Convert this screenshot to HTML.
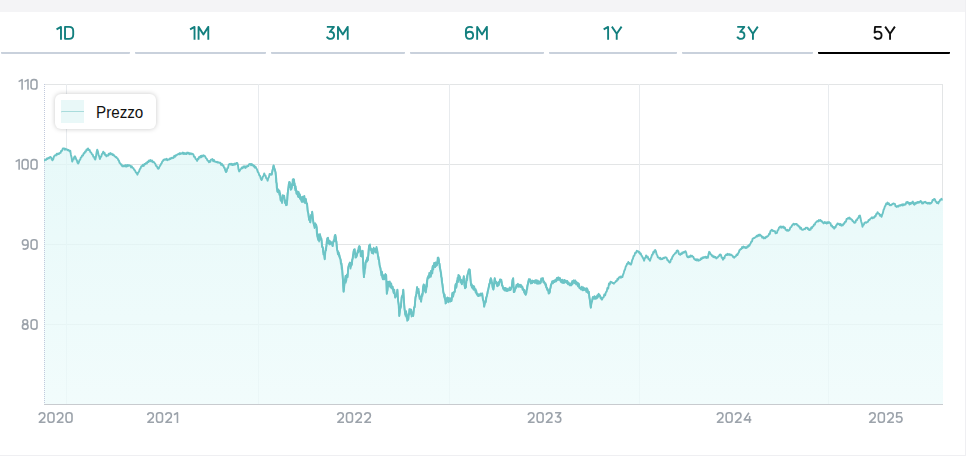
<!DOCTYPE html>
<html><head><meta charset="utf-8">
<style>
html,body{margin:0;padding:0;}
body{width:966px;height:456px;overflow:hidden;background:#fff;position:relative;font-family:"Liberation Sans",sans-serif;}
.topband{position:absolute;left:0;top:0;width:966px;height:12px;background:#f4f4f6;}
.rband{position:absolute;left:965px;top:0;width:1px;height:456px;background:#efeff2;}
.bband{position:absolute;left:0;top:455px;width:966px;height:1px;background:#efeff2;}
.tab{position:absolute;top:12px;height:42px;border-bottom:2px solid #c9d1dc;box-sizing:border-box;border-radius:0 0 1px 1px;}
.tab.act{border-bottom-color:#000;}
svg{position:absolute;left:0;top:0;}
.grid line{stroke-width:1;}
.legend{position:absolute;left:55px;top:94px;width:101px;height:35px;background:#fff;border-radius:6px;box-shadow:0 0 5px rgba(0,0,0,0.22);}
.sw{position:absolute;left:6px;top:6px;width:23px;height:23px;background:#e9f8f8;}
.sw i{position:absolute;left:0;top:11px;width:23px;height:0;border-top:2px dotted #b6e2e2;top:10px;}
.lt{position:absolute;left:41px;top:9px;font-size:16px;line-height:20px;color:#111;transform-origin:left center;transform:scaleX(0.95);}
</style></head><body>
<div class="topband"></div>
<div class="tab" style="left:1px;width:129px"></div>
<div class="tab" style="left:135px;width:131px"></div>
<div class="tab" style="left:271px;width:134px"></div>
<div class="tab" style="left:410px;width:134px"></div>
<div class="tab" style="left:549px;width:128px"></div>
<div class="tab" style="left:682px;width:131px"></div>
<div class="tab act" style="left:818px;width:132px"></div>

<svg width="966" height="456" viewBox="0 0 966 456">
<g class="grid"><line x1="44" y1="84.5" x2="942.5" y2="84.5" stroke="#e3e5e6" /><line x1="44" y1="164.5" x2="942.5" y2="164.5" stroke="#e3e5e6" /><line x1="44" y1="244.5" x2="942.5" y2="244.5" stroke="#e3e5e6" /><line x1="44" y1="324.5" x2="942.5" y2="324.5" stroke="#e3e5e6" /><line x1="66.5" y1="84" x2="66.5" y2="404" stroke="#e8ebee" /><line x1="258.5" y1="84" x2="258.5" y2="404" stroke="#e8ebee" /><line x1="449.5" y1="84" x2="449.5" y2="404" stroke="#e8ebee" /><line x1="639.5" y1="84" x2="639.5" y2="404" stroke="#e8ebee" /><line x1="828.5" y1="84" x2="828.5" y2="404" stroke="#e8ebee" /><line x1="942.5" y1="84" x2="942.5" y2="200" stroke="#e3e5e6" /></g>
<defs><linearGradient id="fg" gradientUnits="userSpaceOnUse" x1="0" y1="84" x2="0" y2="404"><stop offset="0" stop-color="rgb(220,246,246)"/><stop offset="1" stop-color="rgb(237,251,251)"/></linearGradient></defs>
<path d="M44.0,160.5 L44.6,160.5 L45.3,159.6 L46.1,159.9 L46.8,158.5 L47.5,159.0 L48.3,157.7 L49.0,158.3 L49.8,157.2 L50.5,157.0 L51.2,157.6 L51.8,159.4 L52.5,160.3 L53.2,159.3 L53.8,157.0 L54.5,155.7 L55.2,155.1 L56.0,155.4 L56.7,153.8 L57.5,154.4 L58.2,153.4 L59.0,154.0 L59.7,153.0 L60.5,152.9 L61.3,150.6 L62.1,150.7 L62.9,148.4 L63.7,148.4 L64.3,148.5 L65.0,149.7 L65.7,148.8 L66.3,149.5 L67.1,149.5 L67.9,150.3 L68.7,149.9 L69.5,151.3 L70.3,150.8 L70.9,154.7 L71.6,157.4 L72.2,161.6 L72.9,159.6 L73.6,159.4 L74.2,157.1 L74.9,156.3 L75.6,157.5 L76.2,159.4 L76.9,160.3 L77.5,162.7 L78.2,163.5 L78.8,162.5 L79.5,160.1 L80.2,159.7 L80.8,157.6 L81.5,157.2 L82.2,155.4 L83.0,155.6 L83.7,153.2 L84.4,153.4 L85.1,151.5 L85.8,151.7 L86.6,149.4 L87.3,150.0 L88.0,148.4 L88.8,150.0 L89.6,149.9 L90.4,152.2 L91.2,152.6 L92.0,154.3 L92.7,154.6 L93.3,156.7 L94.0,156.9 L94.6,158.7 L95.3,159.6 L95.9,157.0 L96.6,152.3 L97.2,149.7 L97.9,151.4 L98.6,155.2 L99.2,156.3 L99.9,159.0 L100.6,156.9 L101.2,156.7 L101.9,154.0 L102.5,153.7 L103.2,151.7 L103.8,153.4 L104.5,152.7 L105.1,155.0 L105.8,154.7 L106.4,156.3 L107.2,155.4 L108.0,155.7 L108.8,153.7 L109.6,154.6 L110.4,153.0 L111.2,154.3 L111.9,153.7 L112.7,155.1 L113.5,154.5 L114.2,155.9 L115.0,156.3 L115.7,157.3 L116.3,157.0 L116.9,158.1 L117.6,158.3 L118.3,160.1 L118.9,160.6 L119.6,162.9 L120.3,163.3 L120.9,164.6 L121.6,164.4 L122.2,166.3 L122.9,166.2 L123.6,166.4 L124.4,165.5 L125.1,166.5 L125.8,165.1 L126.6,166.6 L127.3,164.9 L128.0,166.0 L128.8,165.1 L129.5,165.5 L130.3,165.6 L131.1,167.4 L131.8,166.3 L132.6,167.9 L133.4,168.2 L134.2,169.8 L135.0,170.5 L135.8,172.4 L136.6,172.9 L137.4,174.7 L138.2,172.4 L139.0,171.7 L139.7,169.4 L140.5,168.4 L141.3,166.2 L142.1,166.2 L142.9,164.8 L143.7,165.9 L144.5,163.9 L145.3,164.2 L146.0,163.0 L146.8,163.6 L147.5,161.7 L148.3,162.0 L149.0,160.4 L149.8,161.3 L150.5,160.0 L151.3,161.4 L152.1,160.4 L152.9,162.2 L153.7,161.9 L154.5,162.9 L155.3,163.8 L156.0,165.9 L156.8,166.2 L157.5,167.8 L158.3,168.8 L159.0,168.0 L159.6,166.2 L160.2,165.8 L160.9,164.2 L161.6,163.3 L162.2,161.7 L162.9,161.0 L163.6,159.6 L164.4,159.9 L165.1,159.2 L165.9,159.8 L166.7,158.8 L167.4,160.2 L168.2,159.6 L169.0,159.6 L169.7,158.6 L170.5,159.0 L171.3,157.8 L172.0,158.2 L172.8,157.6 L173.5,157.9 L174.3,155.8 L175.0,156.7 L175.8,155.2 L176.5,155.5 L177.3,154.5 L178.0,154.3 L178.7,153.7 L179.3,154.3 L180.0,153.0 L180.6,153.9 L181.3,153.4 L182.0,153.6 L182.8,152.5 L183.5,154.0 L184.2,153.1 L185.0,154.0 L185.7,153.2 L186.4,154.0 L187.2,152.5 L187.9,153.4 L188.7,152.7 L189.4,154.2 L190.2,153.3 L191.0,154.2 L191.7,153.5 L192.5,153.9 L193.3,154.3 L194.0,156.8 L194.8,156.7 L195.6,159.0 L196.3,159.4 L197.1,160.9 L197.8,158.8 L198.4,159.2 L199.1,157.0 L199.8,157.6 L200.6,155.9 L201.3,157.2 L202.1,155.5 L202.8,156.4 L203.6,155.3 L204.3,155.7 L205.1,156.3 L205.9,158.1 L206.7,158.7 L207.4,160.4 L208.2,160.8 L209.0,162.2 L209.7,160.9 L210.3,161.8 L210.9,159.7 L211.6,159.6 L212.4,159.1 L213.2,161.3 L213.9,159.9 L214.7,161.6 L215.5,161.6 L216.3,162.2 L217.1,161.8 L217.9,162.7 L218.7,162.3 L219.5,162.9 L220.3,162.8 L221.1,164.8 L221.8,163.7 L222.6,165.5 L223.4,165.5 L224.1,167.8 L224.7,168.0 L225.3,170.7 L226.0,172.1 L226.7,171.2 L227.3,168.1 L228.0,168.1 L228.6,165.1 L229.3,164.2 L230.1,163.8 L230.9,164.7 L231.7,163.8 L232.4,165.1 L233.2,164.0 L234.0,164.9 L234.8,163.5 L235.6,164.4 L236.4,162.9 L237.2,162.9 L237.9,164.9 L238.5,169.3 L239.2,171.4 L239.8,170.7 L240.5,169.2 L241.2,168.8 L241.8,167.5 L242.6,168.2 L243.3,166.5 L244.1,167.5 L244.8,166.3 L245.6,167.9 L246.3,166.2 L247.1,166.8 L247.8,165.7 L248.4,166.0 L249.0,164.4 L249.7,164.0 L250.4,164.0 L251.0,165.2 L251.7,163.9 L252.3,165.3 L253.0,164.9 L253.7,166.4 L254.3,165.7 L255.0,167.7 L255.6,166.8 L256.3,168.2 L257.1,169.6 L257.8,171.9 L258.6,172.9 L259.3,175.3 L260.1,176.0 L260.8,178.7 L261.6,180.0 L262.2,178.8 L262.9,176.4 L263.6,175.9 L264.2,173.4 L264.9,175.3 L265.6,175.8 L266.2,178.4 L266.9,178.4 L267.6,180.7 L268.3,178.0 L268.9,177.1 L269.6,174.0 L270.3,174.8 L270.9,173.9 L271.6,174.7 L272.3,171.1 L272.9,168.8 L273.6,165.5 L274.2,168.2 L274.9,169.6 L275.5,172.1 L276.2,178.0 L276.8,187.9 L277.5,191.8 L278.1,192.2 L278.8,190.5 L279.4,194.9 L280.1,193.3 L280.8,200.4 L281.4,201.0 L282.1,200.7 L282.7,195.6 L283.4,195.8 L284.1,195.6 L284.7,202.1 L285.4,200.4 L286.0,205.2 L286.7,205.0 L287.4,199.0 L288.0,190.5 L288.6,187.6 L289.3,182.0 L290.0,187.0 L290.6,184.9 L291.3,189.2 L292.0,183.9 L292.6,185.1 L293.3,179.3 L294.0,185.1 L294.6,183.4 L295.3,190.2 L295.9,189.0 L296.6,193.8 L297.2,191.9 L297.9,196.2 L298.6,192.0 L299.2,193.8 L299.9,194.4 L300.5,199.0 L301.3,197.2 L302.0,202.0 L302.8,196.6 L303.5,201.8 L304.3,196.0 L305.0,200.3 L305.8,199.0 L306.5,203.4 L307.1,203.7 L307.7,211.5 L308.3,213.2 L309.0,219.0 L309.6,218.4 L310.3,222.4 L310.9,217.9 L311.6,217.1 L312.2,211.8 L312.9,218.6 L313.6,223.7 L314.2,225.3 L314.9,223.5 L315.6,227.0 L316.2,225.0 L316.9,233.5 L317.5,236.8 L318.2,240.0 L318.8,236.3 L319.5,240.1 L320.1,235.6 L320.8,238.2 L321.5,240.3 L322.1,247.2 L322.8,247.4 L323.4,254.4 L324.1,254.1 L324.7,259.2 L325.4,250.9 L326.0,250.3 L326.7,241.6 L327.4,238.2 L328.0,237.7 L328.7,243.4 L329.4,240.7 L330.0,244.4 L330.6,241.7 L331.3,243.4 L332.0,242.8 L332.6,246.0 L333.3,241.7 L334.0,241.6 L334.6,236.2 L335.3,234.9 L335.9,237.5 L336.6,245.6 L337.2,250.0 L338.0,254.2 L338.8,252.6 L339.5,257.2 L340.3,258.7 L340.9,263.7 L341.6,263.5 L342.2,269.2 L342.9,278.5 L343.6,291.6 L344.2,284.9 L344.9,279.7 L345.5,275.9 L346.2,281.0 L346.9,274.7 L347.5,277.1 L348.1,270.3 L348.8,265.3 L349.4,264.0 L350.1,266.0 L350.8,262.7 L351.4,265.3 L352.1,260.0 L352.8,258.4 L353.4,251.8 L354.1,249.5 L354.8,249.2 L355.4,257.5 L356.1,257.4 L356.9,255.9 L357.7,250.8 L358.5,251.9 L359.3,246.2 L360.0,251.5 L360.6,250.3 L361.3,256.0 L362.0,252.5 L362.6,250.8 L363.2,263.2 L363.9,277.1 L364.6,269.5 L365.2,268.3 L365.9,261.3 L366.6,261.7 L367.2,257.4 L367.9,260.0 L368.5,250.5 L369.2,245.5 L369.9,244.4 L370.5,249.4 L371.2,250.1 L371.9,253.1 L372.5,249.8 L373.2,253.7 L373.8,249.4 L374.5,251.4 L375.1,249.4 L375.8,252.5 L376.5,247.0 L377.1,249.5 L377.8,254.7 L378.4,259.3 L379.1,260.3 L379.8,266.6 L380.4,267.9 L381.0,272.0 L381.6,272.6 L382.3,277.4 L382.9,279.2 L383.6,279.2 L384.2,276.5 L384.9,278.3 L385.5,274.7 L386.2,275.3 L386.8,293.7 L387.5,290.3 L388.2,281.8 L389.0,284.5 L389.8,282.5 L390.5,286.8 L391.3,285.6 L392.1,288.4 L392.9,289.3 L393.7,292.8 L394.4,292.5 L395.2,297.2 L396.0,296.3 L396.7,295.0 L397.4,289.7 L398.0,299.6 L398.7,305.4 L399.3,316.0 L400.1,307.8 L400.9,306.4 L401.7,297.5 L402.5,296.7 L403.3,289.7 L404.0,301.5 L404.6,309.5 L405.3,314.3 L405.9,312.1 L406.6,317.7 L407.2,315.5 L407.9,320.0 L408.6,313.4 L409.2,314.5 L409.9,309.5 L410.6,313.5 L411.2,309.7 L411.9,315.6 L412.5,313.1 L413.2,316.0 L414.0,308.7 L414.8,305.2 L415.5,297.7 L416.3,293.7 L417.1,287.1 L417.9,292.5 L418.7,291.6 L419.5,296.8 L420.3,297.9 L421.1,301.6 L421.8,294.6 L422.4,295.9 L423.1,286.5 L423.7,284.5 L424.4,285.8 L425.0,291.0 L425.7,292.4 L426.3,288.9 L427.0,280.9 L427.6,277.9 L428.4,275.8 L429.2,277.5 L430.0,273.4 L430.8,276.7 L431.6,272.6 L432.3,273.3 L433.0,265.7 L433.6,266.6 L434.3,262.9 L435.0,266.5 L435.6,262.5 L436.3,265.9 L437.0,264.9 L437.6,261.9 L438.3,257.6 L439.0,263.2 L439.6,263.7 L440.3,269.5 L441.1,273.3 L441.9,282.1 L442.6,284.8 L443.4,292.4 L444.1,294.4 L444.8,298.9 L445.4,299.4 L446.1,302.9 L446.8,298.6 L447.4,297.6 L448.0,297.9 L448.7,300.3 L449.4,299.2 L450.0,301.6 L450.8,298.5 L451.6,299.9 L452.3,293.9 L453.1,296.5 L453.9,292.1 L454.7,292.0 L455.4,285.0 L456.2,287.9 L456.9,281.1 L457.7,281.8 L458.4,274.9 L459.2,275.7 L459.9,276.8 L460.5,282.4 L461.1,279.8 L461.8,284.2 L462.5,280.8 L463.1,281.7 L463.8,276.3 L464.5,285.1 L465.1,288.2 L465.8,286.8 L466.5,278.5 L467.1,280.0 L467.8,273.7 L468.4,273.3 L469.1,269.1 L469.7,269.7 L470.4,276.2 L471.0,284.9 L471.8,284.3 L472.6,288.3 L473.4,286.1 L474.2,289.8 L475.0,289.5 L475.7,292.5 L476.3,290.8 L477.0,294.8 L477.6,294.1 L478.3,296.1 L479.1,295.2 L479.9,295.6 L480.6,293.6 L481.4,294.5 L482.2,293.4 L482.9,299.4 L483.5,301.0 L484.2,306.6 L484.9,302.7 L485.5,302.6 L486.1,297.4 L486.8,296.1 L487.6,291.5 L488.4,289.3 L489.2,283.9 L490.0,283.3 L490.8,278.3 L491.4,282.2 L492.1,282.8 L492.8,288.0 L493.4,289.5 L494.0,284.4 L494.7,278.3 L495.4,281.7 L496.0,281.5 L496.7,284.7 L497.4,286.2 L498.1,285.6 L498.7,282.1 L499.4,282.9 L500.0,279.5 L500.7,279.6 L501.4,280.1 L502.0,285.3 L502.6,285.6 L503.3,288.8 L504.1,288.0 L504.8,290.6 L505.6,288.0 L506.4,290.9 L507.1,288.6 L507.9,290.1 L508.6,289.2 L509.2,289.9 L509.9,288.2 L510.5,290.0 L511.2,288.2 L511.9,285.7 L512.5,280.4 L513.2,278.3 L513.8,292.1 L514.5,291.0 L515.1,288.8 L515.8,288.5 L516.4,285.0 L517.1,284.9 L517.9,283.8 L518.6,286.7 L519.4,284.8 L520.2,286.9 L520.9,285.0 L521.7,286.2 L522.5,286.9 L523.3,290.1 L524.1,289.7 L524.9,293.6 L525.7,294.7 L526.5,292.6 L527.3,285.3 L528.1,283.5 L528.9,279.3 L529.6,281.1 L530.2,279.4 L530.9,283.5 L531.6,282.6 L532.2,283.1 L532.9,280.9 L533.6,281.8 L534.2,280.7 L535.0,282.8 L535.7,280.8 L536.5,283.0 L537.2,281.6 L538.0,283.7 L538.7,281.2 L539.5,283.3 L540.1,281.6 L540.8,282.5 L541.5,278.8 L542.1,278.7 L542.8,278.2 L543.4,282.4 L544.1,281.5 L544.7,283.3 L545.5,283.3 L546.2,287.7 L547.0,287.9 L547.8,290.3 L548.5,290.5 L549.3,293.2 L550.0,289.1 L550.6,287.9 L551.3,284.0 L551.9,283.7 L552.6,281.5 L553.2,282.3 L553.9,280.7 L554.7,282.0 L555.4,279.8 L556.2,281.3 L556.9,278.0 L557.7,279.8 L558.4,277.3 L559.2,278.7 L560.0,278.1 L560.8,281.9 L561.6,280.3 L562.4,282.7 L563.2,282.6 L563.9,283.1 L564.5,279.9 L565.1,282.4 L565.8,280.7 L566.6,282.5 L567.4,281.6 L568.1,284.2 L568.9,284.0 L569.7,285.3 L570.4,284.1 L571.0,285.5 L571.7,282.5 L572.3,284.4 L573.0,282.0 L573.8,282.8 L574.6,281.5 L575.4,283.5 L576.2,281.8 L577.0,282.6 L577.7,282.8 L578.3,286.5 L579.0,284.1 L579.6,288.4 L580.3,287.9 L581.0,289.4 L581.8,286.6 L582.5,290.2 L583.3,287.5 L584.0,290.2 L584.8,288.6 L585.5,289.2 L586.2,288.3 L586.8,291.2 L587.5,289.3 L588.1,292.6 L588.8,291.8 L589.5,297.8 L590.1,301.9 L590.8,307.6 L591.5,302.4 L592.1,301.1 L592.8,297.1 L593.6,298.4 L594.4,296.8 L595.1,298.7 L595.9,296.7 L596.7,298.4 L597.4,295.1 L598.0,296.1 L598.7,293.8 L599.4,296.3 L600.0,295.4 L600.7,298.5 L601.3,297.6 L602.0,299.7 L602.8,297.6 L603.6,297.3 L604.3,294.5 L605.1,295.4 L605.9,292.2 L606.7,291.5 L607.4,288.0 L608.2,288.6 L609.0,283.4 L609.7,284.5 L610.5,281.7 L611.2,282.4 L611.8,282.2 L612.5,283.1 L613.1,282.9 L613.8,283.7 L614.5,282.6 L615.3,282.4 L616.0,280.9 L616.8,281.0 L617.5,278.8 L618.2,279.5 L619.0,277.4 L619.7,277.1 L620.4,276.6 L621.0,277.7 L621.7,276.6 L622.4,277.1 L623.1,274.6 L623.7,273.1 L624.4,270.4 L625.0,269.6 L625.7,266.6 L626.4,265.7 L627.0,263.8 L627.6,263.8 L628.3,262.0 L628.9,263.5 L629.6,263.0 L630.2,264.3 L630.9,264.6 L631.6,262.8 L632.2,259.9 L632.9,258.7 L633.6,256.1 L634.4,255.6 L635.2,252.7 L636.0,252.9 L636.8,250.8 L637.5,251.3 L638.1,251.2 L638.8,252.5 L639.5,252.1 L640.1,253.9 L640.8,253.6 L641.5,255.7 L642.1,256.1 L642.8,257.8 L643.4,258.7 L644.1,260.7 L644.8,258.1 L645.4,257.9 L646.1,255.4 L646.9,257.3 L647.7,256.6 L648.4,258.9 L649.2,259.4 L650.0,260.7 L650.7,258.4 L651.3,257.3 L652.0,254.7 L652.7,254.5 L653.3,252.0 L654.0,252.6 L654.6,250.4 L655.3,250.1 L655.9,251.2 L656.6,254.3 L657.2,255.0 L657.9,257.4 L658.7,257.5 L659.5,258.7 L660.2,257.8 L661.0,259.3 L661.8,258.7 L662.6,259.1 L663.4,257.8 L664.2,258.2 L665.0,257.3 L665.8,257.4 L666.6,257.8 L667.4,260.2 L668.1,260.3 L668.9,261.8 L669.7,262.6 L670.4,261.9 L671.0,259.4 L671.7,259.2 L672.3,257.1 L673.0,256.1 L673.8,254.6 L674.5,254.4 L675.3,252.9 L676.1,252.9 L676.8,250.6 L677.6,250.5 L678.3,251.2 L678.9,254.0 L679.6,254.5 L680.3,254.8 L680.9,253.6 L681.6,254.1 L682.2,252.6 L682.9,253.2 L683.5,252.0 L684.2,252.6 L684.9,251.5 L685.5,251.2 L686.2,252.6 L686.8,255.8 L687.5,257.1 L688.3,257.4 L689.0,256.3 L689.8,257.1 L690.6,255.4 L691.3,256.4 L692.1,255.8 L692.8,256.8 L693.4,257.0 L694.1,258.8 L694.7,259.1 L695.5,260.0 L696.2,259.2 L697.0,260.5 L697.8,259.3 L698.5,260.7 L699.3,260.4 L700.1,260.2 L700.8,258.4 L701.6,259.2 L702.4,257.4 L703.1,258.0 L703.9,257.1 L704.7,257.6 L705.5,256.7 L706.3,257.9 L707.1,256.8 L707.9,257.8 L708.5,254.3 L709.2,251.8 L709.9,252.5 L710.5,254.1 L711.1,254.3 L711.8,255.8 L712.6,255.4 L713.3,257.2 L714.1,256.4 L714.8,257.4 L715.6,256.9 L716.3,258.4 L717.1,257.8 L717.8,257.4 L718.4,256.3 L719.1,256.0 L719.7,254.7 L720.4,254.5 L721.0,255.0 L721.7,257.9 L722.4,257.7 L723.0,259.7 L723.7,257.7 L724.4,258.3 L725.0,255.8 L725.7,255.1 L726.3,254.4 L727.0,255.1 L727.6,253.8 L728.4,254.8 L729.2,254.1 L730.0,255.2 L730.8,254.4 L731.6,255.1 L732.2,255.3 L732.9,256.9 L733.6,256.8 L734.2,257.8 L735.0,256.7 L735.8,256.3 L736.6,254.6 L737.4,255.0 L738.2,253.2 L738.8,252.4 L739.5,250.1 L740.1,249.9 L740.8,248.9 L741.4,249.0 L742.1,247.1 L742.7,248.0 L743.4,246.6 L744.1,247.4 L744.7,246.9 L745.4,247.9 L746.0,247.2 L746.7,247.9 L747.4,246.3 L748.0,246.8 L748.7,245.3 L749.3,245.8 L750.0,244.3 L750.7,243.3 L751.3,241.5 L752.0,241.5 L752.6,238.8 L753.3,238.4 L753.9,237.9 L754.6,238.0 L755.2,237.2 L755.9,237.1 L756.7,235.7 L757.5,236.4 L758.3,234.8 L759.1,235.8 L759.9,234.5 L760.7,235.7 L761.5,235.7 L762.2,237.7 L763.0,237.0 L763.8,238.4 L764.6,237.6 L765.3,238.2 L766.1,236.7 L766.9,237.0 L767.6,236.1 L768.4,235.8 L769.1,233.8 L769.8,234.0 L770.4,231.2 L771.1,230.5 L771.9,229.8 L772.7,231.0 L773.5,230.7 L774.3,231.2 L775.0,231.3 L775.6,233.4 L776.3,233.2 L777.0,232.9 L777.6,230.3 L778.3,230.0 L778.9,227.9 L779.6,227.2 L780.4,226.5 L781.2,227.8 L782.0,226.5 L782.8,227.5 L783.6,226.6 L784.2,228.1 L784.9,227.5 L785.6,229.8 L786.2,229.9 L786.9,230.7 L787.5,229.8 L788.1,230.8 L788.8,230.5 L789.6,229.8 L790.4,227.4 L791.2,227.2 L792.0,225.5 L792.8,224.6 L793.6,223.7 L794.4,224.7 L795.1,224.0 L795.9,224.2 L796.7,223.9 L797.4,225.4 L798.0,225.3 L798.7,226.6 L799.5,226.4 L800.3,228.7 L801.0,227.7 L801.8,229.6 L802.6,229.9 L803.4,229.7 L804.2,228.9 L805.0,229.2 L805.8,227.6 L806.6,227.9 L807.3,227.8 L807.9,229.0 L808.6,228.6 L809.2,230.1 L809.9,229.9 L810.5,229.7 L811.2,227.5 L811.9,228.2 L812.5,226.6 L813.3,226.3 L814.1,224.5 L814.8,224.6 L815.6,222.5 L816.4,222.0 L817.2,221.0 L818.0,221.6 L818.8,220.1 L819.6,220.7 L820.4,220.0 L821.0,221.0 L821.7,220.9 L822.4,222.2 L823.0,222.6 L823.7,223.4 L824.5,222.0 L825.2,223.1 L825.9,222.2 L826.7,223.6 L827.4,222.2 L828.1,223.1 L828.9,222.0 L829.6,222.8 L830.4,223.1 L831.1,225.7 L831.9,225.5 L832.7,227.3 L833.4,226.9 L834.2,228.7 L834.9,226.9 L835.5,227.4 L836.2,225.3 L836.8,224.9 L837.5,223.4 L838.3,224.0 L839.0,223.7 L839.8,225.1 L840.5,223.9 L841.3,225.7 L842.0,224.7 L842.8,225.4 L843.6,223.5 L844.3,223.7 L845.1,221.7 L845.9,221.7 L846.6,219.0 L847.4,218.8 L848.0,218.1 L848.7,218.5 L849.3,217.5 L850.0,218.8 L850.6,218.5 L851.3,219.5 L852.0,219.7 L852.6,221.1 L853.3,221.2 L853.9,222.5 L854.6,222.8 L855.4,222.4 L856.1,220.1 L856.9,220.0 L857.6,218.4 L858.4,218.0 L859.1,215.9 L859.9,215.5 L860.5,218.0 L861.2,221.5 L861.9,223.6 L862.5,226.7 L863.2,224.6 L863.8,224.7 L864.5,222.8 L865.1,222.9 L865.8,222.2 L866.5,222.7 L867.1,222.1 L867.9,221.9 L868.7,219.9 L869.5,220.0 L870.3,218.7 L871.1,218.2 L871.9,217.3 L872.7,218.3 L873.5,217.3 L874.3,217.5 L875.0,216.0 L875.6,216.2 L876.3,213.9 L876.9,213.8 L877.6,212.2 L878.4,213.6 L879.2,213.6 L880.0,215.8 L880.8,215.0 L881.6,216.8 L882.3,214.3 L882.9,212.9 L883.6,209.8 L884.2,208.7 L884.9,206.3 L885.5,205.6 L886.2,203.6 L886.9,204.0 L887.5,202.6 L888.2,204.0 L888.9,203.3 L889.6,205.2 L890.3,205.0 L891.1,205.3 L891.9,204.2 L892.6,204.4 L893.4,203.4 L894.2,203.7 L894.9,203.9 L895.5,206.2 L896.1,205.9 L896.8,207.0 L897.6,206.0 L898.4,206.6 L899.2,205.3 L900.0,205.7 L900.8,205.0 L901.5,205.3 L902.2,204.2 L902.9,205.5 L903.6,204.3 L904.3,204.9 L905.0,204.3 L905.6,204.5 L906.3,202.2 L907.0,202.8 L907.6,201.9 L908.2,203.0 L908.8,202.8 L909.4,204.5 L910.1,203.0 L910.8,203.9 L911.5,202.5 L912.2,203.0 L912.9,201.6 L913.3,203.4 L913.8,204.3 L914.4,204.7 L915.1,202.8 L915.8,203.7 L916.4,202.5 L917.0,202.9 L917.6,201.9 L918.2,202.7 L919.0,202.0 L919.7,202.5 L920.5,200.9 L921.2,201.4 L921.7,201.7 L922.1,203.6 L922.8,202.9 L923.4,203.2 L924.1,202.0 L924.7,202.1 L925.4,201.8 L926.2,203.1 L926.9,202.7 L927.6,203.6 L928.4,202.8 L929.1,203.8 L929.8,202.7 L930.6,203.5 L931.3,203.0 L932.0,202.0 L932.6,199.9 L933.2,200.3 L933.8,199.1 L934.4,199.0 L935.0,199.5 L935.7,201.6 L936.4,201.8 L937.0,203.1 L937.6,202.4 L938.3,203.4 L938.9,201.6 L939.5,201.5 L940.1,199.9 L940.8,199.8 L941.4,198.8 L942.0,199.7 L942.7,199.5 L943,199.7 L943,404 L44,404 Z" fill="url(#fg)" fill-opacity="0.75" />
<line x1="44.5" y1="84" x2="44.5" y2="404" stroke="#c2cadc" stroke-width="1" stroke-dasharray="1,1" />
<path d="M44.0,160.5 L44.6,160.5 L45.3,159.6 L46.1,159.9 L46.8,158.5 L47.5,159.0 L48.3,157.7 L49.0,158.3 L49.8,157.2 L50.5,157.0 L51.2,157.6 L51.8,159.4 L52.5,160.3 L53.2,159.3 L53.8,157.0 L54.5,155.7 L55.2,155.1 L56.0,155.4 L56.7,153.8 L57.5,154.4 L58.2,153.4 L59.0,154.0 L59.7,153.0 L60.5,152.9 L61.3,150.6 L62.1,150.7 L62.9,148.4 L63.7,148.4 L64.3,148.5 L65.0,149.7 L65.7,148.8 L66.3,149.5 L67.1,149.5 L67.9,150.3 L68.7,149.9 L69.5,151.3 L70.3,150.8 L70.9,154.7 L71.6,157.4 L72.2,161.6 L72.9,159.6 L73.6,159.4 L74.2,157.1 L74.9,156.3 L75.6,157.5 L76.2,159.4 L76.9,160.3 L77.5,162.7 L78.2,163.5 L78.8,162.5 L79.5,160.1 L80.2,159.7 L80.8,157.6 L81.5,157.2 L82.2,155.4 L83.0,155.6 L83.7,153.2 L84.4,153.4 L85.1,151.5 L85.8,151.7 L86.6,149.4 L87.3,150.0 L88.0,148.4 L88.8,150.0 L89.6,149.9 L90.4,152.2 L91.2,152.6 L92.0,154.3 L92.7,154.6 L93.3,156.7 L94.0,156.9 L94.6,158.7 L95.3,159.6 L95.9,157.0 L96.6,152.3 L97.2,149.7 L97.9,151.4 L98.6,155.2 L99.2,156.3 L99.9,159.0 L100.6,156.9 L101.2,156.7 L101.9,154.0 L102.5,153.7 L103.2,151.7 L103.8,153.4 L104.5,152.7 L105.1,155.0 L105.8,154.7 L106.4,156.3 L107.2,155.4 L108.0,155.7 L108.8,153.7 L109.6,154.6 L110.4,153.0 L111.2,154.3 L111.9,153.7 L112.7,155.1 L113.5,154.5 L114.2,155.9 L115.0,156.3 L115.7,157.3 L116.3,157.0 L116.9,158.1 L117.6,158.3 L118.3,160.1 L118.9,160.6 L119.6,162.9 L120.3,163.3 L120.9,164.6 L121.6,164.4 L122.2,166.3 L122.9,166.2 L123.6,166.4 L124.4,165.5 L125.1,166.5 L125.8,165.1 L126.6,166.6 L127.3,164.9 L128.0,166.0 L128.8,165.1 L129.5,165.5 L130.3,165.6 L131.1,167.4 L131.8,166.3 L132.6,167.9 L133.4,168.2 L134.2,169.8 L135.0,170.5 L135.8,172.4 L136.6,172.9 L137.4,174.7 L138.2,172.4 L139.0,171.7 L139.7,169.4 L140.5,168.4 L141.3,166.2 L142.1,166.2 L142.9,164.8 L143.7,165.9 L144.5,163.9 L145.3,164.2 L146.0,163.0 L146.8,163.6 L147.5,161.7 L148.3,162.0 L149.0,160.4 L149.8,161.3 L150.5,160.0 L151.3,161.4 L152.1,160.4 L152.9,162.2 L153.7,161.9 L154.5,162.9 L155.3,163.8 L156.0,165.9 L156.8,166.2 L157.5,167.8 L158.3,168.8 L159.0,168.0 L159.6,166.2 L160.2,165.8 L160.9,164.2 L161.6,163.3 L162.2,161.7 L162.9,161.0 L163.6,159.6 L164.4,159.9 L165.1,159.2 L165.9,159.8 L166.7,158.8 L167.4,160.2 L168.2,159.6 L169.0,159.6 L169.7,158.6 L170.5,159.0 L171.3,157.8 L172.0,158.2 L172.8,157.6 L173.5,157.9 L174.3,155.8 L175.0,156.7 L175.8,155.2 L176.5,155.5 L177.3,154.5 L178.0,154.3 L178.7,153.7 L179.3,154.3 L180.0,153.0 L180.6,153.9 L181.3,153.4 L182.0,153.6 L182.8,152.5 L183.5,154.0 L184.2,153.1 L185.0,154.0 L185.7,153.2 L186.4,154.0 L187.2,152.5 L187.9,153.4 L188.7,152.7 L189.4,154.2 L190.2,153.3 L191.0,154.2 L191.7,153.5 L192.5,153.9 L193.3,154.3 L194.0,156.8 L194.8,156.7 L195.6,159.0 L196.3,159.4 L197.1,160.9 L197.8,158.8 L198.4,159.2 L199.1,157.0 L199.8,157.6 L200.6,155.9 L201.3,157.2 L202.1,155.5 L202.8,156.4 L203.6,155.3 L204.3,155.7 L205.1,156.3 L205.9,158.1 L206.7,158.7 L207.4,160.4 L208.2,160.8 L209.0,162.2 L209.7,160.9 L210.3,161.8 L210.9,159.7 L211.6,159.6 L212.4,159.1 L213.2,161.3 L213.9,159.9 L214.7,161.6 L215.5,161.6 L216.3,162.2 L217.1,161.8 L217.9,162.7 L218.7,162.3 L219.5,162.9 L220.3,162.8 L221.1,164.8 L221.8,163.7 L222.6,165.5 L223.4,165.5 L224.1,167.8 L224.7,168.0 L225.3,170.7 L226.0,172.1 L226.7,171.2 L227.3,168.1 L228.0,168.1 L228.6,165.1 L229.3,164.2 L230.1,163.8 L230.9,164.7 L231.7,163.8 L232.4,165.1 L233.2,164.0 L234.0,164.9 L234.8,163.5 L235.6,164.4 L236.4,162.9 L237.2,162.9 L237.9,164.9 L238.5,169.3 L239.2,171.4 L239.8,170.7 L240.5,169.2 L241.2,168.8 L241.8,167.5 L242.6,168.2 L243.3,166.5 L244.1,167.5 L244.8,166.3 L245.6,167.9 L246.3,166.2 L247.1,166.8 L247.8,165.7 L248.4,166.0 L249.0,164.4 L249.7,164.0 L250.4,164.0 L251.0,165.2 L251.7,163.9 L252.3,165.3 L253.0,164.9 L253.7,166.4 L254.3,165.7 L255.0,167.7 L255.6,166.8 L256.3,168.2 L257.1,169.6 L257.8,171.9 L258.6,172.9 L259.3,175.3 L260.1,176.0 L260.8,178.7 L261.6,180.0 L262.2,178.8 L262.9,176.4 L263.6,175.9 L264.2,173.4 L264.9,175.3 L265.6,175.8 L266.2,178.4 L266.9,178.4 L267.6,180.7 L268.3,178.0 L268.9,177.1 L269.6,174.0 L270.3,174.8 L270.9,173.9 L271.6,174.7 L272.3,171.1 L272.9,168.8 L273.6,165.5 L274.2,168.2 L274.9,169.6 L275.5,172.1 L276.2,178.0 L276.8,187.9 L277.5,191.8 L278.1,192.2 L278.8,190.5 L279.4,194.9 L280.1,193.3 L280.8,200.4 L281.4,201.0 L282.1,200.7 L282.7,195.6 L283.4,195.8 L284.1,195.6 L284.7,202.1 L285.4,200.4 L286.0,205.2 L286.7,205.0 L287.4,199.0 L288.0,190.5 L288.6,187.6 L289.3,182.0 L290.0,187.0 L290.6,184.9 L291.3,189.2 L292.0,183.9 L292.6,185.1 L293.3,179.3 L294.0,185.1 L294.6,183.4 L295.3,190.2 L295.9,189.0 L296.6,193.8 L297.2,191.9 L297.9,196.2 L298.6,192.0 L299.2,193.8 L299.9,194.4 L300.5,199.0 L301.3,197.2 L302.0,202.0 L302.8,196.6 L303.5,201.8 L304.3,196.0 L305.0,200.3 L305.8,199.0 L306.5,203.4 L307.1,203.7 L307.7,211.5 L308.3,213.2 L309.0,219.0 L309.6,218.4 L310.3,222.4 L310.9,217.9 L311.6,217.1 L312.2,211.8 L312.9,218.6 L313.6,223.7 L314.2,225.3 L314.9,223.5 L315.6,227.0 L316.2,225.0 L316.9,233.5 L317.5,236.8 L318.2,240.0 L318.8,236.3 L319.5,240.1 L320.1,235.6 L320.8,238.2 L321.5,240.3 L322.1,247.2 L322.8,247.4 L323.4,254.4 L324.1,254.1 L324.7,259.2 L325.4,250.9 L326.0,250.3 L326.7,241.6 L327.4,238.2 L328.0,237.7 L328.7,243.4 L329.4,240.7 L330.0,244.4 L330.6,241.7 L331.3,243.4 L332.0,242.8 L332.6,246.0 L333.3,241.7 L334.0,241.6 L334.6,236.2 L335.3,234.9 L335.9,237.5 L336.6,245.6 L337.2,250.0 L338.0,254.2 L338.8,252.6 L339.5,257.2 L340.3,258.7 L340.9,263.7 L341.6,263.5 L342.2,269.2 L342.9,278.5 L343.6,291.6 L344.2,284.9 L344.9,279.7 L345.5,275.9 L346.2,281.0 L346.9,274.7 L347.5,277.1 L348.1,270.3 L348.8,265.3 L349.4,264.0 L350.1,266.0 L350.8,262.7 L351.4,265.3 L352.1,260.0 L352.8,258.4 L353.4,251.8 L354.1,249.5 L354.8,249.2 L355.4,257.5 L356.1,257.4 L356.9,255.9 L357.7,250.8 L358.5,251.9 L359.3,246.2 L360.0,251.5 L360.6,250.3 L361.3,256.0 L362.0,252.5 L362.6,250.8 L363.2,263.2 L363.9,277.1 L364.6,269.5 L365.2,268.3 L365.9,261.3 L366.6,261.7 L367.2,257.4 L367.9,260.0 L368.5,250.5 L369.2,245.5 L369.9,244.4 L370.5,249.4 L371.2,250.1 L371.9,253.1 L372.5,249.8 L373.2,253.7 L373.8,249.4 L374.5,251.4 L375.1,249.4 L375.8,252.5 L376.5,247.0 L377.1,249.5 L377.8,254.7 L378.4,259.3 L379.1,260.3 L379.8,266.6 L380.4,267.9 L381.0,272.0 L381.6,272.6 L382.3,277.4 L382.9,279.2 L383.6,279.2 L384.2,276.5 L384.9,278.3 L385.5,274.7 L386.2,275.3 L386.8,293.7 L387.5,290.3 L388.2,281.8 L389.0,284.5 L389.8,282.5 L390.5,286.8 L391.3,285.6 L392.1,288.4 L392.9,289.3 L393.7,292.8 L394.4,292.5 L395.2,297.2 L396.0,296.3 L396.7,295.0 L397.4,289.7 L398.0,299.6 L398.7,305.4 L399.3,316.0 L400.1,307.8 L400.9,306.4 L401.7,297.5 L402.5,296.7 L403.3,289.7 L404.0,301.5 L404.6,309.5 L405.3,314.3 L405.9,312.1 L406.6,317.7 L407.2,315.5 L407.9,320.0 L408.6,313.4 L409.2,314.5 L409.9,309.5 L410.6,313.5 L411.2,309.7 L411.9,315.6 L412.5,313.1 L413.2,316.0 L414.0,308.7 L414.8,305.2 L415.5,297.7 L416.3,293.7 L417.1,287.1 L417.9,292.5 L418.7,291.6 L419.5,296.8 L420.3,297.9 L421.1,301.6 L421.8,294.6 L422.4,295.9 L423.1,286.5 L423.7,284.5 L424.4,285.8 L425.0,291.0 L425.7,292.4 L426.3,288.9 L427.0,280.9 L427.6,277.9 L428.4,275.8 L429.2,277.5 L430.0,273.4 L430.8,276.7 L431.6,272.6 L432.3,273.3 L433.0,265.7 L433.6,266.6 L434.3,262.9 L435.0,266.5 L435.6,262.5 L436.3,265.9 L437.0,264.9 L437.6,261.9 L438.3,257.6 L439.0,263.2 L439.6,263.7 L440.3,269.5 L441.1,273.3 L441.9,282.1 L442.6,284.8 L443.4,292.4 L444.1,294.4 L444.8,298.9 L445.4,299.4 L446.1,302.9 L446.8,298.6 L447.4,297.6 L448.0,297.9 L448.7,300.3 L449.4,299.2 L450.0,301.6 L450.8,298.5 L451.6,299.9 L452.3,293.9 L453.1,296.5 L453.9,292.1 L454.7,292.0 L455.4,285.0 L456.2,287.9 L456.9,281.1 L457.7,281.8 L458.4,274.9 L459.2,275.7 L459.9,276.8 L460.5,282.4 L461.1,279.8 L461.8,284.2 L462.5,280.8 L463.1,281.7 L463.8,276.3 L464.5,285.1 L465.1,288.2 L465.8,286.8 L466.5,278.5 L467.1,280.0 L467.8,273.7 L468.4,273.3 L469.1,269.1 L469.7,269.7 L470.4,276.2 L471.0,284.9 L471.8,284.3 L472.6,288.3 L473.4,286.1 L474.2,289.8 L475.0,289.5 L475.7,292.5 L476.3,290.8 L477.0,294.8 L477.6,294.1 L478.3,296.1 L479.1,295.2 L479.9,295.6 L480.6,293.6 L481.4,294.5 L482.2,293.4 L482.9,299.4 L483.5,301.0 L484.2,306.6 L484.9,302.7 L485.5,302.6 L486.1,297.4 L486.8,296.1 L487.6,291.5 L488.4,289.3 L489.2,283.9 L490.0,283.3 L490.8,278.3 L491.4,282.2 L492.1,282.8 L492.8,288.0 L493.4,289.5 L494.0,284.4 L494.7,278.3 L495.4,281.7 L496.0,281.5 L496.7,284.7 L497.4,286.2 L498.1,285.6 L498.7,282.1 L499.4,282.9 L500.0,279.5 L500.7,279.6 L501.4,280.1 L502.0,285.3 L502.6,285.6 L503.3,288.8 L504.1,288.0 L504.8,290.6 L505.6,288.0 L506.4,290.9 L507.1,288.6 L507.9,290.1 L508.6,289.2 L509.2,289.9 L509.9,288.2 L510.5,290.0 L511.2,288.2 L511.9,285.7 L512.5,280.4 L513.2,278.3 L513.8,292.1 L514.5,291.0 L515.1,288.8 L515.8,288.5 L516.4,285.0 L517.1,284.9 L517.9,283.8 L518.6,286.7 L519.4,284.8 L520.2,286.9 L520.9,285.0 L521.7,286.2 L522.5,286.9 L523.3,290.1 L524.1,289.7 L524.9,293.6 L525.7,294.7 L526.5,292.6 L527.3,285.3 L528.1,283.5 L528.9,279.3 L529.6,281.1 L530.2,279.4 L530.9,283.5 L531.6,282.6 L532.2,283.1 L532.9,280.9 L533.6,281.8 L534.2,280.7 L535.0,282.8 L535.7,280.8 L536.5,283.0 L537.2,281.6 L538.0,283.7 L538.7,281.2 L539.5,283.3 L540.1,281.6 L540.8,282.5 L541.5,278.8 L542.1,278.7 L542.8,278.2 L543.4,282.4 L544.1,281.5 L544.7,283.3 L545.5,283.3 L546.2,287.7 L547.0,287.9 L547.8,290.3 L548.5,290.5 L549.3,293.2 L550.0,289.1 L550.6,287.9 L551.3,284.0 L551.9,283.7 L552.6,281.5 L553.2,282.3 L553.9,280.7 L554.7,282.0 L555.4,279.8 L556.2,281.3 L556.9,278.0 L557.7,279.8 L558.4,277.3 L559.2,278.7 L560.0,278.1 L560.8,281.9 L561.6,280.3 L562.4,282.7 L563.2,282.6 L563.9,283.1 L564.5,279.9 L565.1,282.4 L565.8,280.7 L566.6,282.5 L567.4,281.6 L568.1,284.2 L568.9,284.0 L569.7,285.3 L570.4,284.1 L571.0,285.5 L571.7,282.5 L572.3,284.4 L573.0,282.0 L573.8,282.8 L574.6,281.5 L575.4,283.5 L576.2,281.8 L577.0,282.6 L577.7,282.8 L578.3,286.5 L579.0,284.1 L579.6,288.4 L580.3,287.9 L581.0,289.4 L581.8,286.6 L582.5,290.2 L583.3,287.5 L584.0,290.2 L584.8,288.6 L585.5,289.2 L586.2,288.3 L586.8,291.2 L587.5,289.3 L588.1,292.6 L588.8,291.8 L589.5,297.8 L590.1,301.9 L590.8,307.6 L591.5,302.4 L592.1,301.1 L592.8,297.1 L593.6,298.4 L594.4,296.8 L595.1,298.7 L595.9,296.7 L596.7,298.4 L597.4,295.1 L598.0,296.1 L598.7,293.8 L599.4,296.3 L600.0,295.4 L600.7,298.5 L601.3,297.6 L602.0,299.7 L602.8,297.6 L603.6,297.3 L604.3,294.5 L605.1,295.4 L605.9,292.2 L606.7,291.5 L607.4,288.0 L608.2,288.6 L609.0,283.4 L609.7,284.5 L610.5,281.7 L611.2,282.4 L611.8,282.2 L612.5,283.1 L613.1,282.9 L613.8,283.7 L614.5,282.6 L615.3,282.4 L616.0,280.9 L616.8,281.0 L617.5,278.8 L618.2,279.5 L619.0,277.4 L619.7,277.1 L620.4,276.6 L621.0,277.7 L621.7,276.6 L622.4,277.1 L623.1,274.6 L623.7,273.1 L624.4,270.4 L625.0,269.6 L625.7,266.6 L626.4,265.7 L627.0,263.8 L627.6,263.8 L628.3,262.0 L628.9,263.5 L629.6,263.0 L630.2,264.3 L630.9,264.6 L631.6,262.8 L632.2,259.9 L632.9,258.7 L633.6,256.1 L634.4,255.6 L635.2,252.7 L636.0,252.9 L636.8,250.8 L637.5,251.3 L638.1,251.2 L638.8,252.5 L639.5,252.1 L640.1,253.9 L640.8,253.6 L641.5,255.7 L642.1,256.1 L642.8,257.8 L643.4,258.7 L644.1,260.7 L644.8,258.1 L645.4,257.9 L646.1,255.4 L646.9,257.3 L647.7,256.6 L648.4,258.9 L649.2,259.4 L650.0,260.7 L650.7,258.4 L651.3,257.3 L652.0,254.7 L652.7,254.5 L653.3,252.0 L654.0,252.6 L654.6,250.4 L655.3,250.1 L655.9,251.2 L656.6,254.3 L657.2,255.0 L657.9,257.4 L658.7,257.5 L659.5,258.7 L660.2,257.8 L661.0,259.3 L661.8,258.7 L662.6,259.1 L663.4,257.8 L664.2,258.2 L665.0,257.3 L665.8,257.4 L666.6,257.8 L667.4,260.2 L668.1,260.3 L668.9,261.8 L669.7,262.6 L670.4,261.9 L671.0,259.4 L671.7,259.2 L672.3,257.1 L673.0,256.1 L673.8,254.6 L674.5,254.4 L675.3,252.9 L676.1,252.9 L676.8,250.6 L677.6,250.5 L678.3,251.2 L678.9,254.0 L679.6,254.5 L680.3,254.8 L680.9,253.6 L681.6,254.1 L682.2,252.6 L682.9,253.2 L683.5,252.0 L684.2,252.6 L684.9,251.5 L685.5,251.2 L686.2,252.6 L686.8,255.8 L687.5,257.1 L688.3,257.4 L689.0,256.3 L689.8,257.1 L690.6,255.4 L691.3,256.4 L692.1,255.8 L692.8,256.8 L693.4,257.0 L694.1,258.8 L694.7,259.1 L695.5,260.0 L696.2,259.2 L697.0,260.5 L697.8,259.3 L698.5,260.7 L699.3,260.4 L700.1,260.2 L700.8,258.4 L701.6,259.2 L702.4,257.4 L703.1,258.0 L703.9,257.1 L704.7,257.6 L705.5,256.7 L706.3,257.9 L707.1,256.8 L707.9,257.8 L708.5,254.3 L709.2,251.8 L709.9,252.5 L710.5,254.1 L711.1,254.3 L711.8,255.8 L712.6,255.4 L713.3,257.2 L714.1,256.4 L714.8,257.4 L715.6,256.9 L716.3,258.4 L717.1,257.8 L717.8,257.4 L718.4,256.3 L719.1,256.0 L719.7,254.7 L720.4,254.5 L721.0,255.0 L721.7,257.9 L722.4,257.7 L723.0,259.7 L723.7,257.7 L724.4,258.3 L725.0,255.8 L725.7,255.1 L726.3,254.4 L727.0,255.1 L727.6,253.8 L728.4,254.8 L729.2,254.1 L730.0,255.2 L730.8,254.4 L731.6,255.1 L732.2,255.3 L732.9,256.9 L733.6,256.8 L734.2,257.8 L735.0,256.7 L735.8,256.3 L736.6,254.6 L737.4,255.0 L738.2,253.2 L738.8,252.4 L739.5,250.1 L740.1,249.9 L740.8,248.9 L741.4,249.0 L742.1,247.1 L742.7,248.0 L743.4,246.6 L744.1,247.4 L744.7,246.9 L745.4,247.9 L746.0,247.2 L746.7,247.9 L747.4,246.3 L748.0,246.8 L748.7,245.3 L749.3,245.8 L750.0,244.3 L750.7,243.3 L751.3,241.5 L752.0,241.5 L752.6,238.8 L753.3,238.4 L753.9,237.9 L754.6,238.0 L755.2,237.2 L755.9,237.1 L756.7,235.7 L757.5,236.4 L758.3,234.8 L759.1,235.8 L759.9,234.5 L760.7,235.7 L761.5,235.7 L762.2,237.7 L763.0,237.0 L763.8,238.4 L764.6,237.6 L765.3,238.2 L766.1,236.7 L766.9,237.0 L767.6,236.1 L768.4,235.8 L769.1,233.8 L769.8,234.0 L770.4,231.2 L771.1,230.5 L771.9,229.8 L772.7,231.0 L773.5,230.7 L774.3,231.2 L775.0,231.3 L775.6,233.4 L776.3,233.2 L777.0,232.9 L777.6,230.3 L778.3,230.0 L778.9,227.9 L779.6,227.2 L780.4,226.5 L781.2,227.8 L782.0,226.5 L782.8,227.5 L783.6,226.6 L784.2,228.1 L784.9,227.5 L785.6,229.8 L786.2,229.9 L786.9,230.7 L787.5,229.8 L788.1,230.8 L788.8,230.5 L789.6,229.8 L790.4,227.4 L791.2,227.2 L792.0,225.5 L792.8,224.6 L793.6,223.7 L794.4,224.7 L795.1,224.0 L795.9,224.2 L796.7,223.9 L797.4,225.4 L798.0,225.3 L798.7,226.6 L799.5,226.4 L800.3,228.7 L801.0,227.7 L801.8,229.6 L802.6,229.9 L803.4,229.7 L804.2,228.9 L805.0,229.2 L805.8,227.6 L806.6,227.9 L807.3,227.8 L807.9,229.0 L808.6,228.6 L809.2,230.1 L809.9,229.9 L810.5,229.7 L811.2,227.5 L811.9,228.2 L812.5,226.6 L813.3,226.3 L814.1,224.5 L814.8,224.6 L815.6,222.5 L816.4,222.0 L817.2,221.0 L818.0,221.6 L818.8,220.1 L819.6,220.7 L820.4,220.0 L821.0,221.0 L821.7,220.9 L822.4,222.2 L823.0,222.6 L823.7,223.4 L824.5,222.0 L825.2,223.1 L825.9,222.2 L826.7,223.6 L827.4,222.2 L828.1,223.1 L828.9,222.0 L829.6,222.8 L830.4,223.1 L831.1,225.7 L831.9,225.5 L832.7,227.3 L833.4,226.9 L834.2,228.7 L834.9,226.9 L835.5,227.4 L836.2,225.3 L836.8,224.9 L837.5,223.4 L838.3,224.0 L839.0,223.7 L839.8,225.1 L840.5,223.9 L841.3,225.7 L842.0,224.7 L842.8,225.4 L843.6,223.5 L844.3,223.7 L845.1,221.7 L845.9,221.7 L846.6,219.0 L847.4,218.8 L848.0,218.1 L848.7,218.5 L849.3,217.5 L850.0,218.8 L850.6,218.5 L851.3,219.5 L852.0,219.7 L852.6,221.1 L853.3,221.2 L853.9,222.5 L854.6,222.8 L855.4,222.4 L856.1,220.1 L856.9,220.0 L857.6,218.4 L858.4,218.0 L859.1,215.9 L859.9,215.5 L860.5,218.0 L861.2,221.5 L861.9,223.6 L862.5,226.7 L863.2,224.6 L863.8,224.7 L864.5,222.8 L865.1,222.9 L865.8,222.2 L866.5,222.7 L867.1,222.1 L867.9,221.9 L868.7,219.9 L869.5,220.0 L870.3,218.7 L871.1,218.2 L871.9,217.3 L872.7,218.3 L873.5,217.3 L874.3,217.5 L875.0,216.0 L875.6,216.2 L876.3,213.9 L876.9,213.8 L877.6,212.2 L878.4,213.6 L879.2,213.6 L880.0,215.8 L880.8,215.0 L881.6,216.8 L882.3,214.3 L882.9,212.9 L883.6,209.8 L884.2,208.7 L884.9,206.3 L885.5,205.6 L886.2,203.6 L886.9,204.0 L887.5,202.6 L888.2,204.0 L888.9,203.3 L889.6,205.2 L890.3,205.0 L891.1,205.3 L891.9,204.2 L892.6,204.4 L893.4,203.4 L894.2,203.7 L894.9,203.9 L895.5,206.2 L896.1,205.9 L896.8,207.0 L897.6,206.0 L898.4,206.6 L899.2,205.3 L900.0,205.7 L900.8,205.0 L901.5,205.3 L902.2,204.2 L902.9,205.5 L903.6,204.3 L904.3,204.9 L905.0,204.3 L905.6,204.5 L906.3,202.2 L907.0,202.8 L907.6,201.9 L908.2,203.0 L908.8,202.8 L909.4,204.5 L910.1,203.0 L910.8,203.9 L911.5,202.5 L912.2,203.0 L912.9,201.6 L913.3,203.4 L913.8,204.3 L914.4,204.7 L915.1,202.8 L915.8,203.7 L916.4,202.5 L917.0,202.9 L917.6,201.9 L918.2,202.7 L919.0,202.0 L919.7,202.5 L920.5,200.9 L921.2,201.4 L921.7,201.7 L922.1,203.6 L922.8,202.9 L923.4,203.2 L924.1,202.0 L924.7,202.1 L925.4,201.8 L926.2,203.1 L926.9,202.7 L927.6,203.6 L928.4,202.8 L929.1,203.8 L929.8,202.7 L930.6,203.5 L931.3,203.0 L932.0,202.0 L932.6,199.9 L933.2,200.3 L933.8,199.1 L934.4,199.0 L935.0,199.5 L935.7,201.6 L936.4,201.8 L937.0,203.1 L937.6,202.4 L938.3,203.4 L938.9,201.6 L939.5,201.5 L940.1,199.9 L940.8,199.8 L941.4,198.8 L942.0,199.7 L942.7,199.5" fill="none" stroke="#6cc4c6" stroke-width="1.9" stroke-linejoin="round" />
<path d="M271.6,174.7 L272.3,172.3 L272.9,168.1 L273.6,165.5 L274.2,167.3 L274.9,170.4 L275.5,172.1 L276.2,182.1 L276.8,183.5 L277.5,191.8 L278.1,189.0 L278.8,190.5 L279.7,190.9 L280.5,200.1 L281.4,201.0 L282.1,203.3 L282.7,195.0 L283.4,195.8 L284.2,195.8 L285.0,203.3 L285.9,201.1 L286.7,205.0 L287.4,193.9 L288.0,190.5 L288.6,184.2 L289.3,182.0 L290.0,182.3 L290.6,189.9 L291.3,189.2 L292.0,187.3 L292.6,179.5 L293.3,179.3 L294.1,179.2 L295.0,188.5 L295.8,186.2 L296.6,193.8 L297.5,191.2 L298.3,197.2 L299.2,193.8 L299.9,198.8 L300.5,199.0 L301.4,201.2 L302.3,197.3 L303.1,199.9 L304.0,197.5 L304.9,203.2 L305.8,199.0 L306.5,204.0 L307.1,203.7 L307.7,210.8 L308.3,213.2 L309.0,220.1 L309.6,216.5 L310.3,222.4 L310.9,214.7 L311.6,217.4 L312.2,211.8 L312.9,219.3 L313.6,223.7 L314.5,228.1 L315.3,223.2 L316.2,225.0 L316.9,227.4 L317.5,236.8 L318.3,234.3 L319.1,241.6 L320.0,233.8 L320.8,238.2 L321.5,238.2 L322.1,245.3 L322.8,247.4 L323.4,252.3 L324.1,252.8 L324.7,259.2 L325.6,248.6 L326.5,246.3 L327.4,238.2 L328.0,243.1 L328.7,243.4 L329.6,244.5 L330.4,241.5 L331.3,243.4 L332.0,243.8 L332.6,246.0 L333.5,240.4 L334.4,241.2 L335.3,234.9 L335.9,241.4 L336.6,241.5 L337.2,250.0 L338.0,251.1 L338.8,255.9 L339.5,254.8 L340.3,258.7 L340.9,260.0 L341.6,269.1 L342.2,269.2 L342.9,282.4 L343.6,291.6 L344.2,288.8 L344.9,279.7 L345.8,282.8 L346.6,276.7 L347.5,277.1 L348.1,267.5 L348.8,265.3 L349.7,262.4 L350.5,268.7 L351.4,265.3 L352.1,264.2 L352.8,255.2 L353.4,254.6 L354.1,249.5 L354.8,253.5 L355.4,253.3 L356.1,257.4 L356.9,253.2 L357.7,253.1 L358.5,247.5 L359.3,246.2 L360.0,246.7 L360.6,256.2 L361.3,256.0 L362.0,256.9 L362.6,250.8 L363.2,267.6 L363.9,277.1 L364.6,273.1 L365.2,263.0 L365.9,261.3 L366.6,259.4 L367.2,261.5 L367.9,260.0 L368.5,254.6 L369.2,245.5 L369.9,249.8 L370.5,247.6 L371.2,250.1 L372.0,248.9 L372.9,252.9 L373.7,247.5 L374.5,251.4 L375.4,248.6 L376.2,252.4 L377.1,249.5 L377.8,254.7 L378.7,257.0 L379.5,264.7 L380.4,267.9 L381.2,275.5 L382.1,271.5 L382.9,279.2 L383.7,275.0 L384.5,279.4 L385.4,273.9 L386.2,275.3 L386.8,293.7 L387.5,289.6 L388.2,281.8 L389.0,286.2 L389.8,281.4 L390.5,287.6 L391.3,283.3 L392.1,288.4 L392.9,286.7 L393.7,293.1 L394.4,289.6 L395.2,297.8 L396.0,296.3 L396.7,294.7 L397.4,289.7 L398.0,300.3 L398.7,303.9 L399.3,316.0 L400.1,309.6 L400.9,307.8 L401.7,296.1 L402.5,296.7 L403.3,289.7 L404.0,302.1 L404.6,309.5 L405.4,316.0 L406.2,311.0 L407.1,320.9 L407.9,320.0 L408.6,319.1 L409.2,309.0 L409.9,309.5 L410.7,309.4 L411.5,316.6 L412.4,312.2 L413.2,316.0 L414.0,307.2 L414.8,307.3 L415.5,296.9 L416.3,296.0 L417.1,287.1 L417.9,292.9 L418.7,288.7 L419.5,298.9 L420.3,296.4 L421.1,301.6 L422.0,293.8 L422.8,294.0 L423.7,284.5 L424.4,289.1 L425.0,286.7 L425.7,292.4 L426.3,284.4 L427.0,286.8 L427.6,277.9 L428.4,278.3 L429.2,272.7 L430.0,276.1 L430.8,270.7 L431.6,272.6 L432.5,266.3 L433.4,269.5 L434.3,262.9 L435.2,267.3 L436.1,262.6 L437.0,264.9 L437.6,257.5 L438.3,257.6 L439.0,259.6 L439.6,267.7 L440.3,269.5 L441.1,276.4 L441.9,278.3 L442.6,287.5 L443.4,292.4 L444.1,296.9 L444.8,294.6 L445.4,303.6 L446.1,302.9 L446.8,301.7 L447.4,297.6 L448.3,302.4 L449.1,297.9 L450.0,301.6 L450.8,298.2 L451.6,301.2 L452.3,292.6 L453.1,296.4 L453.9,292.1 L454.8,292.0 L455.7,283.7 L456.5,286.9 L457.4,277.8 L458.3,281.9 L459.2,275.7 L460.1,280.0 L460.9,280.5 L461.8,284.2 L462.5,280.4 L463.1,280.8 L463.8,276.3 L464.5,285.0 L465.1,288.2 L466.0,287.4 L466.9,276.3 L467.8,273.7 L468.4,270.3 L469.1,273.7 L469.7,269.7 L470.4,279.6 L471.0,284.9 L471.8,287.4 L472.6,285.7 L473.4,289.6 L474.2,286.2 L475.0,289.5 L475.8,289.1 L476.6,294.0 L477.5,293.6 L478.3,296.1 L479.1,294.2 L479.9,295.7 L480.6,293.7 L481.4,295.3 L482.2,293.4 L482.9,299.9 L483.5,300.4 L484.2,306.6 L485.1,301.8 L485.9,301.9 L486.8,296.1 L487.6,293.4 L488.4,288.0 L489.2,286.4 L490.0,280.3 L490.8,278.3 L491.7,279.8 L492.5,287.0 L493.4,289.5 L494.0,286.0 L494.7,278.3 L495.6,283.2 L496.5,282.2 L497.4,286.2 L498.2,282.4 L499.0,285.1 L499.9,279.9 L500.7,279.6 L501.6,281.9 L502.4,286.4 L503.3,288.8 L504.1,290.0 L504.8,287.9 L505.6,290.0 L506.4,288.6 L507.1,291.3 L507.9,290.1 L508.7,290.7 L509.5,287.3 L510.4,290.2 L511.2,288.2 L511.9,286.4 L512.5,279.9 L513.2,278.3 L513.8,292.1 L514.6,291.9 L515.5,287.2 L516.3,287.5 L517.1,284.9 L517.9,286.7 L518.6,284.8 L519.4,286.1 L520.2,284.6 L520.9,286.9 L521.7,286.2 L522.5,289.8 L523.3,288.8 L524.1,292.6 L524.9,291.2 L525.7,294.7 L526.5,289.6 L527.3,289.0 L528.1,282.4 L528.9,279.3 L529.6,279.3 L530.2,282.0 L530.9,280.6 L531.6,282.6 L532.5,280.4 L533.3,282.2 L534.2,280.7 L535.1,282.7 L536.0,279.7 L536.9,283.7 L537.7,280.4 L538.6,283.5 L539.5,283.3 L540.4,283.5 L541.2,278.4 L542.1,278.7 L543.0,278.2 L543.8,282.5 L544.7,283.3 L545.5,285.6 L546.2,284.7 L547.0,290.0 L547.8,289.1 L548.5,293.7 L549.3,293.2 L550.0,292.0 L550.6,285.4 L551.3,284.0 L552.2,281.0 L553.0,283.5 L553.9,280.7 L554.8,281.5 L555.7,279.5 L556.5,280.8 L557.4,277.7 L558.3,279.9 L559.2,278.7 L560.0,280.3 L560.8,279.6 L561.6,282.5 L562.4,279.5 L563.2,282.6 L564.1,280.1 L564.9,281.8 L565.8,280.7 L566.6,282.8 L567.4,280.8 L568.1,284.1 L568.9,282.4 L569.7,285.3 L570.5,283.5 L571.4,285.0 L572.2,280.8 L573.0,282.0 L573.8,280.0 L574.6,282.9 L575.4,280.3 L576.2,284.6 L577.0,282.6 L577.8,286.0 L578.6,283.3 L579.5,287.8 L580.3,287.9 L581.2,289.2 L582.0,287.8 L582.9,289.8 L583.8,287.7 L584.6,289.8 L585.5,289.2 L586.3,292.1 L587.1,288.3 L588.0,293.2 L588.8,291.8 L589.5,298.1 L590.1,301.6 L590.8,307.6 L591.5,302.8 L592.1,301.2 L592.8,297.1 L593.6,298.5 L594.4,296.0 L595.1,299.0 L595.9,297.0 L596.7,298.4 L597.4,295.8 L598.0,297.4 L598.7,293.8" fill="none" stroke="#6cc4c6" stroke-width="1.6" stroke-linejoin="round" />
<line x1="44" y1="404.5" x2="943" y2="404.5" stroke="#c8cbcf" stroke-width="1" />
<g transform="translate(56.40,25.90) scale(0.1390)" fill="none" stroke="#127f7e" stroke-width="13.5" stroke-linejoin="round" stroke-linecap="butt"><path transform="translate(0,0)" d="M1,25 L33,7 L33,100"/><path transform="translate(55,0)" d="M7,7 L7,93 L36,93 Q66,93 66,63 L66,37 Q66,7 36,7 Z"/></g><g transform="translate(189.94,25.90) scale(0.1390)" fill="none" stroke="#127f7e" stroke-width="13.5" stroke-linejoin="round" stroke-linecap="butt"><path transform="translate(0,0)" d="M1,25 L33,7 L33,100"/><path transform="translate(55,0)" d="M7,100 L7,7 L42,62 L77,7 L77,100"/></g><g transform="translate(326.02,25.90) scale(0.1390)" fill="none" stroke="#127f7e" stroke-width="13.5" stroke-linejoin="round" stroke-linecap="butt"><path transform="translate(0,0)" d="M6,7 L57,7 L27,44 C29,43 31,43 33,43 C49,43 58,53 58,68 C58,84 48,93 32,93 C19,93 10,87 6,77"/><path transform="translate(79,0)" d="M7,100 L7,7 L42,62 L77,7 L77,100"/></g><g transform="translate(464.93,25.90) scale(0.1390)" fill="none" stroke="#127f7e" stroke-width="13.5" stroke-linejoin="round" stroke-linecap="butt"><path transform="translate(0,0)" d="M56,14 C51,9 44,7 36,7 C18,7 7,17 7,37 L7,63 C7,82 18,93 33,93 C49,93 59,83 59,67 C59,51 49,42 34,42 C21,42 11,48 7,58"/><path transform="translate(81,0)" d="M7,100 L7,7 L42,62 L77,7 L77,100"/></g><g transform="translate(603.52,25.90) scale(0.1390)" fill="none" stroke="#127f7e" stroke-width="13.5" stroke-linejoin="round" stroke-linecap="butt"><path transform="translate(0,0)" d="M1,25 L33,7 L33,100"/><path transform="translate(55,0)" d="M5,5 L40,56 L75,5 M40,56 L40,100"/></g><g transform="translate(736.40,25.90) scale(0.1390)" fill="none" stroke="#127f7e" stroke-width="13.5" stroke-linejoin="round" stroke-linecap="butt"><path transform="translate(0,0)" d="M6,7 L57,7 L27,44 C29,43 31,43 33,43 C49,43 58,53 58,68 C58,84 48,93 32,93 C19,93 10,87 6,77"/><path transform="translate(79,0)" d="M5,5 L40,56 L75,5 M40,56 L40,100"/></g><g transform="translate(873.50,25.90) scale(0.1390)" fill="none" stroke="#111111" stroke-width="13.5" stroke-linejoin="round" stroke-linecap="butt"><path transform="translate(0,0)" d="M58,7 L11,7 L8,48 C14,43 22,41 31,41 C48,41 58,52 58,67 C58,84 47,93 32,93 C19,93 10,87 6,77"/><path transform="translate(79,0)" d="M5,5 L40,56 L75,5 M40,56 L40,100"/></g>
<g transform="translate(18.51,78.90) scale(0.1090)" fill="none" stroke="#9ca3ab" stroke-width="14.5" stroke-linejoin="round" stroke-linecap="butt"><path transform="translate(0,0)" d="M1,25 L33,7 L33,100"/><path transform="translate(54,0)" d="M1,25 L33,7 L33,100"/><path transform="translate(108,0)" d="M29,7 L39,7 Q61,7 61,29 L61,71 Q61,93 39,93 L29,93 Q7,93 7,71 L7,29 Q7,7 29,7 Z"/></g><g transform="translate(15.53,158.90) scale(0.1090)" fill="none" stroke="#9ca3ab" stroke-width="14.5" stroke-linejoin="round" stroke-linecap="butt"><path transform="translate(0,0)" d="M1,25 L33,7 L33,100"/><path transform="translate(54,0)" d="M29,7 L39,7 Q61,7 61,29 L61,71 Q61,93 39,93 L29,93 Q7,93 7,71 L7,29 Q7,7 29,7 Z"/><path transform="translate(136,0)" d="M29,7 L39,7 Q61,7 61,29 L61,71 Q61,93 39,93 L29,93 Q7,93 7,71 L7,29 Q7,7 29,7 Z"/></g><g transform="translate(21.63,239.00) scale(0.1090)" fill="none" stroke="#9ca3ab" stroke-width="14.5" stroke-linejoin="round" stroke-linecap="butt"><path transform="translate(0,0)" d="M10,86 C15,91 22,93 30,93 C48,93 59,83 59,63 L59,37 C59,18 48,7 33,7 C17,7 7,17 7,33 C7,49 17,58 32,58 C45,58 55,52 59,42"/><path transform="translate(80,0)" d="M29,7 L39,7 Q61,7 61,29 L61,71 Q61,93 39,93 L29,93 Q7,93 7,71 L7,29 Q7,7 29,7 Z"/></g><g transform="translate(21.63,319.00) scale(0.1090)" fill="none" stroke="#9ca3ab" stroke-width="14.5" stroke-linejoin="round" stroke-linecap="butt"><path transform="translate(0,0)" d="M33,7 C45,7 55,15 55,27 C55,39 45,47 33,47 C21,47 11,39 11,27 C11,15 21,7 33,7 Z M33,47 C48,47 59,56 59,70 C59,84 48,93 33,93 C18,93 7,84 7,70 C7,56 18,47 33,47 Z"/><path transform="translate(80,0)" d="M29,7 L39,7 Q61,7 61,29 L61,71 Q61,93 39,93 L29,93 Q7,93 7,71 L7,29 Q7,7 29,7 Z"/></g>
<g transform="translate(38.23,412.00) scale(0.1100)" fill="none" stroke="#9ca3ab" stroke-width="14.5" stroke-linejoin="round" stroke-linecap="butt"><path transform="translate(0,0)" d="M8,28 C9,14 19,7 34,7 C50,7 60,16 60,31 C60,41 56,48 49,56 L10,93 L66,93"/><path transform="translate(82,0)" d="M29,7 L39,7 Q61,7 61,29 L61,71 Q61,93 39,93 L29,93 Q7,93 7,71 L7,29 Q7,7 29,7 Z"/><path transform="translate(164,0)" d="M8,28 C9,14 19,7 34,7 C50,7 60,16 60,31 C60,41 56,48 49,56 L10,93 L66,93"/><path transform="translate(246,0)" d="M29,7 L39,7 Q61,7 61,29 L61,71 Q61,93 39,93 L29,93 Q7,93 7,71 L7,29 Q7,7 29,7 Z"/></g><g transform="translate(146.77,412.00) scale(0.1100)" fill="none" stroke="#9ca3ab" stroke-width="14.5" stroke-linejoin="round" stroke-linecap="butt"><path transform="translate(0,0)" d="M8,28 C9,14 19,7 34,7 C50,7 60,16 60,31 C60,41 56,48 49,56 L10,93 L66,93"/><path transform="translate(82,0)" d="M29,7 L39,7 Q61,7 61,29 L61,71 Q61,93 39,93 L29,93 Q7,93 7,71 L7,29 Q7,7 29,7 Z"/><path transform="translate(164,0)" d="M8,28 C9,14 19,7 34,7 C50,7 60,16 60,31 C60,41 56,48 49,56 L10,93 L66,93"/><path transform="translate(246,0)" d="M1,25 L33,7 L33,100"/></g><g transform="translate(336.73,412.00) scale(0.1100)" fill="none" stroke="#9ca3ab" stroke-width="14.5" stroke-linejoin="round" stroke-linecap="butt"><path transform="translate(0,0)" d="M8,28 C9,14 19,7 34,7 C50,7 60,16 60,31 C60,41 56,48 49,56 L10,93 L66,93"/><path transform="translate(82,0)" d="M29,7 L39,7 Q61,7 61,29 L61,71 Q61,93 39,93 L29,93 Q7,93 7,71 L7,29 Q7,7 29,7 Z"/><path transform="translate(164,0)" d="M8,28 C9,14 19,7 34,7 C50,7 60,16 60,31 C60,41 56,48 49,56 L10,93 L66,93"/><path transform="translate(246,0)" d="M8,28 C9,14 19,7 34,7 C50,7 60,16 60,31 C60,41 56,48 49,56 L10,93 L66,93"/></g><g transform="translate(527.35,412.00) scale(0.1100)" fill="none" stroke="#9ca3ab" stroke-width="14.5" stroke-linejoin="round" stroke-linecap="butt"><path transform="translate(0,0)" d="M8,28 C9,14 19,7 34,7 C50,7 60,16 60,31 C60,41 56,48 49,56 L10,93 L66,93"/><path transform="translate(82,0)" d="M29,7 L39,7 Q61,7 61,29 L61,71 Q61,93 39,93 L29,93 Q7,93 7,71 L7,29 Q7,7 29,7 Z"/><path transform="translate(164,0)" d="M8,28 C9,14 19,7 34,7 C50,7 60,16 60,31 C60,41 56,48 49,56 L10,93 L66,93"/><path transform="translate(246,0)" d="M6,7 L57,7 L27,44 C29,43 31,43 33,43 C49,43 58,53 58,68 C58,84 48,93 32,93 C19,93 10,87 6,77"/></g><g transform="translate(716.36,412.00) scale(0.1100)" fill="none" stroke="#9ca3ab" stroke-width="14.5" stroke-linejoin="round" stroke-linecap="butt"><path transform="translate(0,0)" d="M8,28 C9,14 19,7 34,7 C50,7 60,16 60,31 C60,41 56,48 49,56 L10,93 L66,93"/><path transform="translate(82,0)" d="M29,7 L39,7 Q61,7 61,29 L61,71 Q61,93 39,93 L29,93 Q7,93 7,71 L7,29 Q7,7 29,7 Z"/><path transform="translate(164,0)" d="M8,28 C9,14 19,7 34,7 C50,7 60,16 60,31 C60,41 56,48 49,56 L10,93 L66,93"/><path transform="translate(246,0)" d="M50,7 L7,72 L72,72 M56,36 L56,100"/></g><g transform="translate(868.60,412.00) scale(0.1100)" fill="none" stroke="#9ca3ab" stroke-width="14.5" stroke-linejoin="round" stroke-linecap="butt"><path transform="translate(0,0)" d="M8,28 C9,14 19,7 34,7 C50,7 60,16 60,31 C60,41 56,48 49,56 L10,93 L66,93"/><path transform="translate(82,0)" d="M29,7 L39,7 Q61,7 61,29 L61,71 Q61,93 39,93 L29,93 Q7,93 7,71 L7,29 Q7,7 29,7 Z"/><path transform="translate(164,0)" d="M8,28 C9,14 19,7 34,7 C50,7 60,16 60,31 C60,41 56,48 49,56 L10,93 L66,93"/><path transform="translate(246,0)" d="M58,7 L11,7 L8,48 C14,43 22,41 31,41 C48,41 58,52 58,67 C58,84 47,93 32,93 C19,93 10,87 6,77"/></g>
</svg>
<div class="legend"><div class="sw"><svg width="23" height="23" style="position:absolute;left:0;top:0"><path d="M0,11.5 L1,12 L2,11 L3,12 L4,11 L5,12 L6,11 L7,12 L8,11 L9,12 L10,11 L11,12 L12,11 L13,12 L14,11 L15,12 L16,11 L17,12 L18,11 L19,12 L20,11 L21,12 L22,11 L23,12" fill="none" stroke="#a9dcdc" stroke-width="1"/></svg></div><div class="lt">Prezzo</div></div>
<div class="rband"></div>
<div class="bband"></div>
</body></html>
